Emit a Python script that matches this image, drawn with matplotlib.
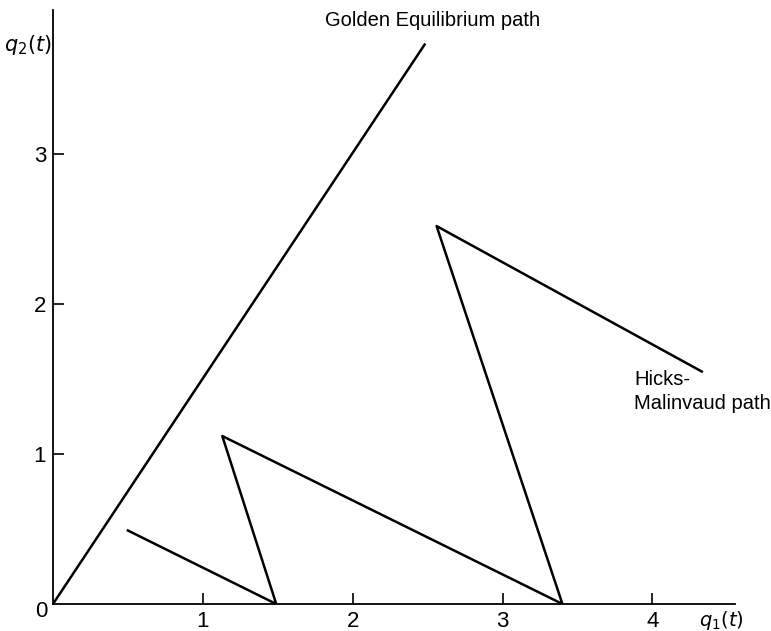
import matplotlib.pyplot as plt

# Trayectorias
golden_q1 = [0.0, 2.48]
golden_q2 = [0.0, 3.73]

hicks_q1 = [0.5, 1.49, 1.13, 3.40, 2.56, 4.33]
hicks_q2 = [0.49, 0.0, 1.12, 0.0, 2.52, 1.55]

xticks = [1, 2, 3, 4]
yticks = [1, 2, 3]

plt.rcParams['font.family'] = ['Liberation Sans', 'DejaVu Sans']

fig = plt.figure(figsize=(7.71, 6.31), dpi=100)
ax = fig.add_axes([0.0687, 0.0428, 0.8843, 0.9412])

ax.plot(golden_q1, golden_q2, color='black', lw=1.8)
ax.plot(hicks_q1, hicks_q2, color='black', lw=1.8)

ax.set_xlim(0, 4.55)
ax.set_ylim(0, 3.96)
ax.spines['top'].set_visible(False)
ax.spines['right'].set_visible(False)
ax.spines['left'].set_linewidth(1.3)
ax.spines['bottom'].set_linewidth(1.3)

ax.set_xticks(xticks)
ax.set_yticks(yticks)
ax.tick_params(direction='in', length=8, width=1.2, labelsize=16, pad=5)

ax.text(-0.08, -0.05, '0', fontsize=16, ha='center', va='center')
ax.text(4.46, -0.112, r'$q_1(t)$', fontsize=14, ha='center', va='center')
ax.text(-0.17, 3.73, r'$q_2(t)$', fontsize=15, ha='center', va='center')

ax.text(2.53, 3.89, 'Golden Equilibrium path', fontsize=14.5, ha='center', va='center')
ax.text(3.88, 1.56, 'Hicks-\nMalinvaud path', fontsize=14.5, ha='left', va='top',
        linespacing=1.3)

fig.savefig('out.png', dpi=100)
